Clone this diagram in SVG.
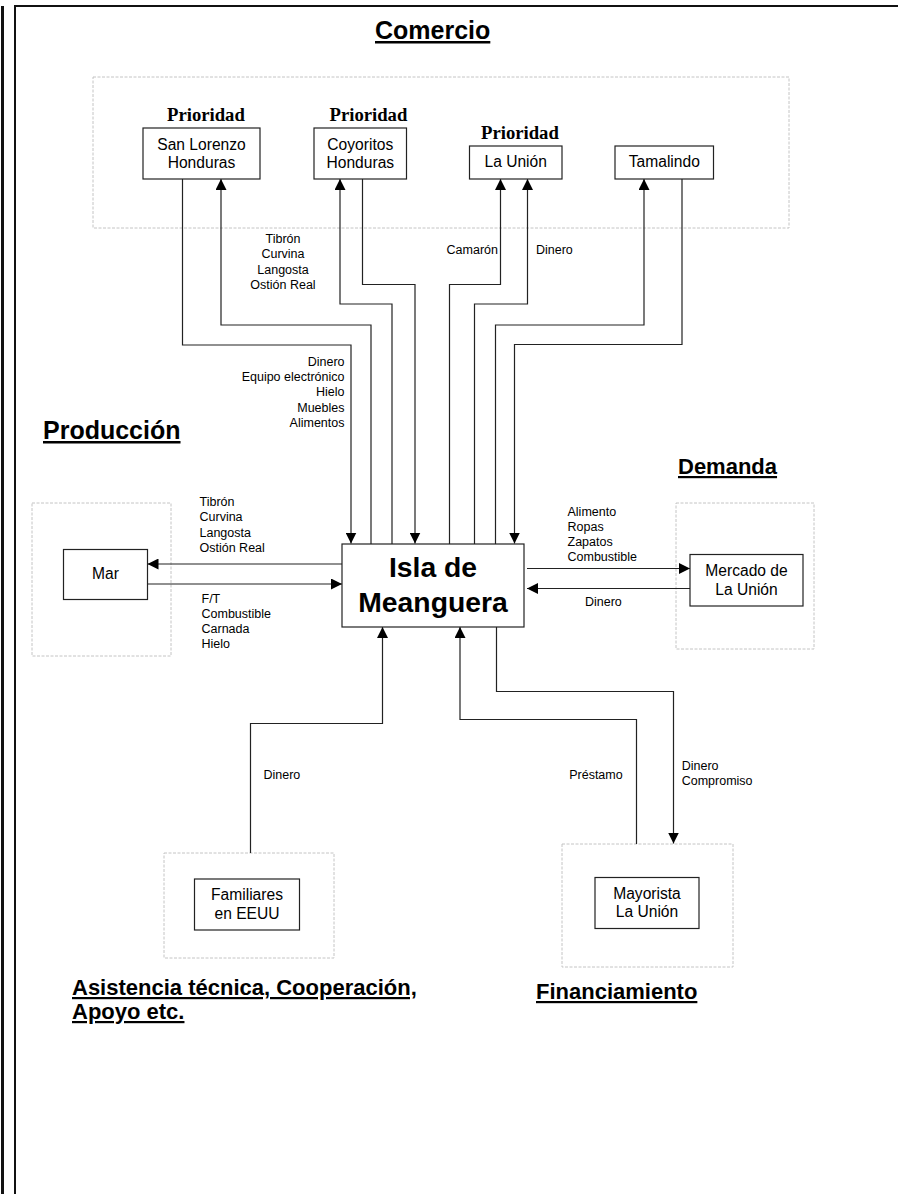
<svg xmlns="http://www.w3.org/2000/svg" width="898" height="1194" viewBox="0 0 898 1194">
<style>
.frame{fill:none;stroke:#111;}
.cont{fill:none;stroke:#c4c4c4;stroke-width:1;stroke-dasharray:3 1.5;}
.box{fill:#fff;stroke:#222;stroke-width:1.2;}
.conn{fill:none;stroke:#222;stroke-width:1.2;}
.t{font-family:"Liberation Sans",Arial,sans-serif;fill:#000;}
.lbl{font-size:12.5px;}
.nd{font-size:15.6px;text-anchor:middle;}
.sec{font-weight:bold;text-decoration:underline;}
.pri{font-family:"Liberation Serif","Times New Roman",serif;font-weight:bold;font-size:18.7px;fill:#000;}
</style>
<defs>
<marker id="ah" viewBox="0 0 11 11" refX="11" refY="5.5" markerWidth="11" markerHeight="11" markerUnits="userSpaceOnUse" orient="auto">
<path d="M0,0 L11,5.5 L0,11 z" fill="#000"/>
</marker>
</defs>
<rect width="898" height="1194" fill="#fff"/>
<g id="page-frame">
<line class="frame" x1="2.5" y1="6" x2="2.5" y2="1194" stroke-width="3"/>
<polyline class="frame" points="15,1194 15,6 898,6" stroke-width="2"/>
</g>
<g id="section-titles">
<text class="t sec" x="375" y="39" font-size="25">Comercio</text>
<text class="t sec" x="43" y="439" font-size="25">Producción</text>
<text class="t sec" x="678" y="474" font-size="22">Demanda</text>
<text class="t sec" x="72" y="995" font-size="22">Asistencia técnica, Cooperación,</text>
<text class="t sec" x="72" y="1019" font-size="22">Apoyo etc.</text>
<text class="t sec" x="536" y="999" font-size="22">Financiamiento</text>
</g>
<g id="containers">
<rect class="cont" x="93" y="77" width="696" height="151"/>
<rect class="cont" x="32" y="503" width="139" height="153"/>
<rect class="cont" x="676" y="503" width="138" height="146"/>
<rect class="cont" x="164" y="853" width="170" height="105"/>
<rect class="cont" x="562" y="844" width="171" height="123"/>
</g>
<g id="connectors">
<path class="conn" d="M182.5,179 V345 H351 V543.5" marker-end="url(#ah)"/>
<path class="conn" d="M371,544 V325 H221 V179" marker-end="url(#ah)"/>
<path class="conn" d="M392,544 V304 H340 V179" marker-end="url(#ah)"/>
<path class="conn" d="M362.5,179 V284.5 H415 V543.5" marker-end="url(#ah)"/>
<path class="conn" d="M449.5,544 V284.5 H500.5 V179" marker-end="url(#ah)"/>
<path class="conn" d="M474.5,544 V304 H527.5 V179" marker-end="url(#ah)"/>
<path class="conn" d="M495.5,544 V325 H644 V179" marker-end="url(#ah)"/>
<path class="conn" d="M682,179 V344.5 H514.5 V543.5" marker-end="url(#ah)"/>
<path class="conn" d="M342,564 H147.5" marker-end="url(#ah)"/>
<path class="conn" d="M147.5,584 H342" marker-end="url(#ah)"/>
<path class="conn" d="M527,568.5 H690" marker-end="url(#ah)"/>
<path class="conn" d="M690,588.5 H527" marker-end="url(#ah)"/>
<path class="conn" d="M250.5,853 V723.5 H382.5 V627" marker-end="url(#ah)"/>
<path class="conn" d="M636.5,844 V719.5 H460 V627" marker-end="url(#ah)"/>
<path class="conn" d="M496.5,627 V691.5 H673.5 V843.5" marker-end="url(#ah)"/>
</g>
<g id="connector-labels" class="t lbl">
<text x="283" text-anchor="middle"><tspan x="283" y="243">Tibrón</tspan><tspan x="283" y="258">Curvina</tspan><tspan x="283" y="273.5">Langosta</tspan><tspan x="283" y="288.5">Ostión Real</tspan></text>
<text text-anchor="end"><tspan x="344.5" y="366">Dinero</tspan><tspan x="344.5" y="381">Equipo electrónico</tspan><tspan x="344.5" y="396.3">Hielo</tspan><tspan x="344.5" y="411.5">Muebles</tspan><tspan x="344.5" y="426.7">Alimentos</tspan></text>
<text x="498" y="253.5" text-anchor="end">Camarón</text>
<text x="536" y="253.5">Dinero</text>
<text><tspan x="199.5" y="506">Tibrón</tspan><tspan x="199.5" y="521.3">Curvina</tspan><tspan x="199.5" y="536.7">Langosta</tspan><tspan x="199.5" y="552">Ostión Real</tspan></text>
<text><tspan x="201.5" y="602.7">F/T</tspan><tspan x="201.5" y="617.5">Combustible</tspan><tspan x="201.5" y="632.7">Carnada</tspan><tspan x="201.5" y="648.3">Hielo</tspan></text>
<text><tspan x="567.5" y="515.7">Alimento</tspan><tspan x="567.5" y="531">Ropas</tspan><tspan x="567.5" y="546">Zapatos</tspan><tspan x="567.5" y="560.7">Combustible</tspan></text>
<text x="585" y="605.7">Dinero</text>
<text x="263.5" y="779">Dinero</text>
<text x="622.7" y="779.3" text-anchor="end">Préstamo</text>
<text><tspan x="681.7" y="770">Dinero</tspan><tspan x="681.7" y="785.3">Compromiso</tspan></text>
</g>
<g id="node-san-lorenzo">
<text class="pri" x="167" y="120.7">Prioridad</text>
<rect class="box" x="143" y="128" width="117" height="51"/>
<text class="t nd" x="201.5" y="150">San Lorenzo</text>
<text class="t nd" x="201.5" y="167.7">Honduras</text>
</g>
<g id="node-coyoritos">
<text class="pri" x="329.5" y="120.7">Prioridad</text>
<rect class="box" x="314" y="128" width="92.5" height="51"/>
<text class="t nd" x="360.3" y="150">Coyoritos</text>
<text class="t nd" x="360.3" y="167.7">Honduras</text>
</g>
<g id="node-la-union">
<text class="pri" x="481" y="139.3">Prioridad</text>
<rect class="box" x="469.5" y="146" width="92.5" height="33"/>
<text class="t nd" x="515.7" y="166.7">La Unión</text>
</g>
<g id="node-tamalindo">
<rect class="box" x="615" y="146" width="98.5" height="33"/>
<text class="t nd" x="664.3" y="166.7">Tamalindo</text>
</g>
<g id="node-isla">
<rect class="box" x="342" y="544" width="182" height="83"/>
<text class="t" x="433" y="577" font-size="28.3" font-weight="bold" text-anchor="middle">Isla de</text>
<text class="t" x="433" y="612" font-size="28.3" font-weight="bold" text-anchor="middle">Meanguera</text>
</g>
<g id="node-mar">
<rect class="box" x="63.5" y="549.5" width="84" height="50"/>
<text class="t nd" x="105.5" y="578.5">Mar</text>
</g>
<g id="node-mercado">
<rect class="box" x="690" y="554.5" width="113" height="51.5"/>
<text class="t nd" x="746.5" y="576">Mercado de</text>
<text class="t nd" x="746.5" y="595">La Unión</text>
</g>
<g id="node-familiares">
<rect class="box" x="194.5" y="879" width="105" height="51"/>
<text class="t nd" x="247" y="900">Familiares</text>
<text class="t nd" x="247" y="919">en EEUU</text>
</g>
<g id="node-mayorista">
<rect class="box" x="595" y="877.5" width="104" height="51"/>
<text class="t nd" x="647" y="898.7">Mayorista</text>
<text class="t nd" x="647" y="917.3">La Unión</text>
</g>
</svg>
